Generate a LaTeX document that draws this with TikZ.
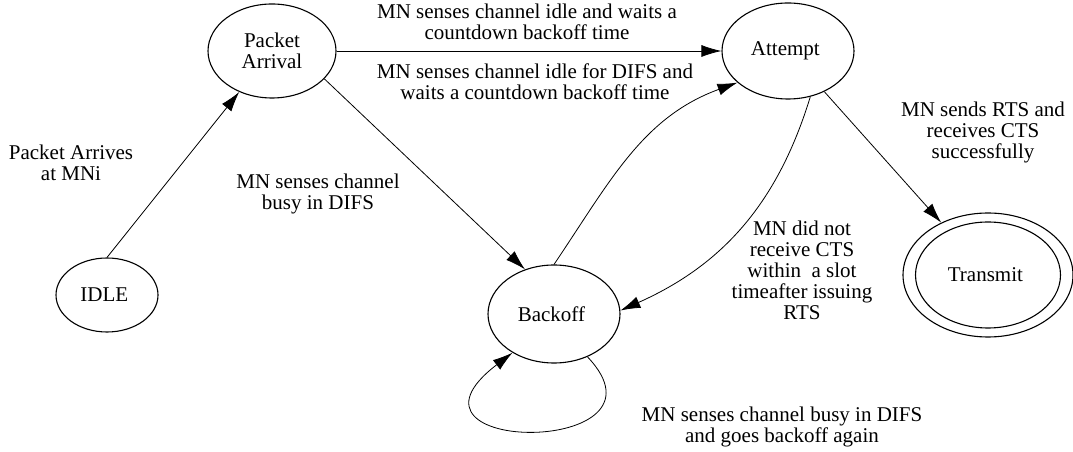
\documentclass[tikz,border=0pt]{standalone}
\usepackage{fontspec}
\setmainfont{Liberation Serif}
\usetikzlibrary{positioning,shapes,arrows.meta}

\begin{document}
\begin{tikzpicture}[x=1pt, y=1pt,
	font=\fontsize{21}{21}\selectfont,
	state/.style={draw, ellipse, line width=1.1pt, inner sep=0pt, align=center},
	trans/.style={-{Latex[length=20pt,width=12pt]}, line width=0.8pt},
	note/.style={align=center, inner sep=0pt}
]
\useasboundingbox (0,0) rectangle (1073,452);

% Idle
\node [state,
	minimum width=102pt,
	minimum height=74pt
] (idle) at (107,157) {
IDLE
};

% Packet arrival
\node [state,
	minimum width=128pt,
	minimum height=94pt
] (packet_arrival) at (272,401) {
Packet\\Arrival
};

% Attempt
\node [state,
	minimum width=132pt,
	minimum height=96pt
] (attempt) at (788,401) {
Attempt
};

% Backoff
\node [state,
	minimum width=132pt,
	minimum height=98pt
] (backoff) at (554,138) {
Backoff
};

% Transmit (accepting state)
\node [state,
	minimum width=170pt,
	minimum height=124pt
] (transmit) at (988,177) {};
\node [state,
	minimum width=145pt,
	minimum height=106pt
] (transmit_inner) at (transmit) {
Transmit
};

% Transitions
\draw[trans] (idle.north) -- (packet_arrival);
\draw[trans] (packet_arrival) -- (attempt);
\draw[trans] (packet_arrival.-28) -- (backoff.123);
\draw[trans] (backoff.north) to[out=56, in=200] (attempt.212);
\draw[trans] (attempt.-64) to[out=-107, in=24] (backoff.3);
\draw[trans] (attempt) -- (transmit);
\draw[trans] (backoff.-52) .. controls +(95,-100) and +(-135,-103) .. (backoff.-137);

% Labels
\node [note] (l_arrives) at (71,289) {Packet Arrives\\at MNi};
\node [note] (l_idle) at (527,430) {MN senses channel idle and waits a\\countdown backoff time};
\node [note] (l_difs) at (535,370) {MN senses channel idle for DIFS and\\waits a countdown backoff time};
\node [note] (l_busy) at (318,258) {MN senses channel\\busy in DIFS};
\node [note] (l_nocts) at (802,182) {MN did not\\receive CTS\\within\ \ a slot\\timeafter issuing\\RTS};
\node [note] (l_cts) at (983,320) {MN sends RTS and\\receives CTS\\successfully};
\node [note] (l_again) at (782,25) {MN senses channel busy in DIFS\\and goes backoff again};

\end{tikzpicture}
\end{document}
